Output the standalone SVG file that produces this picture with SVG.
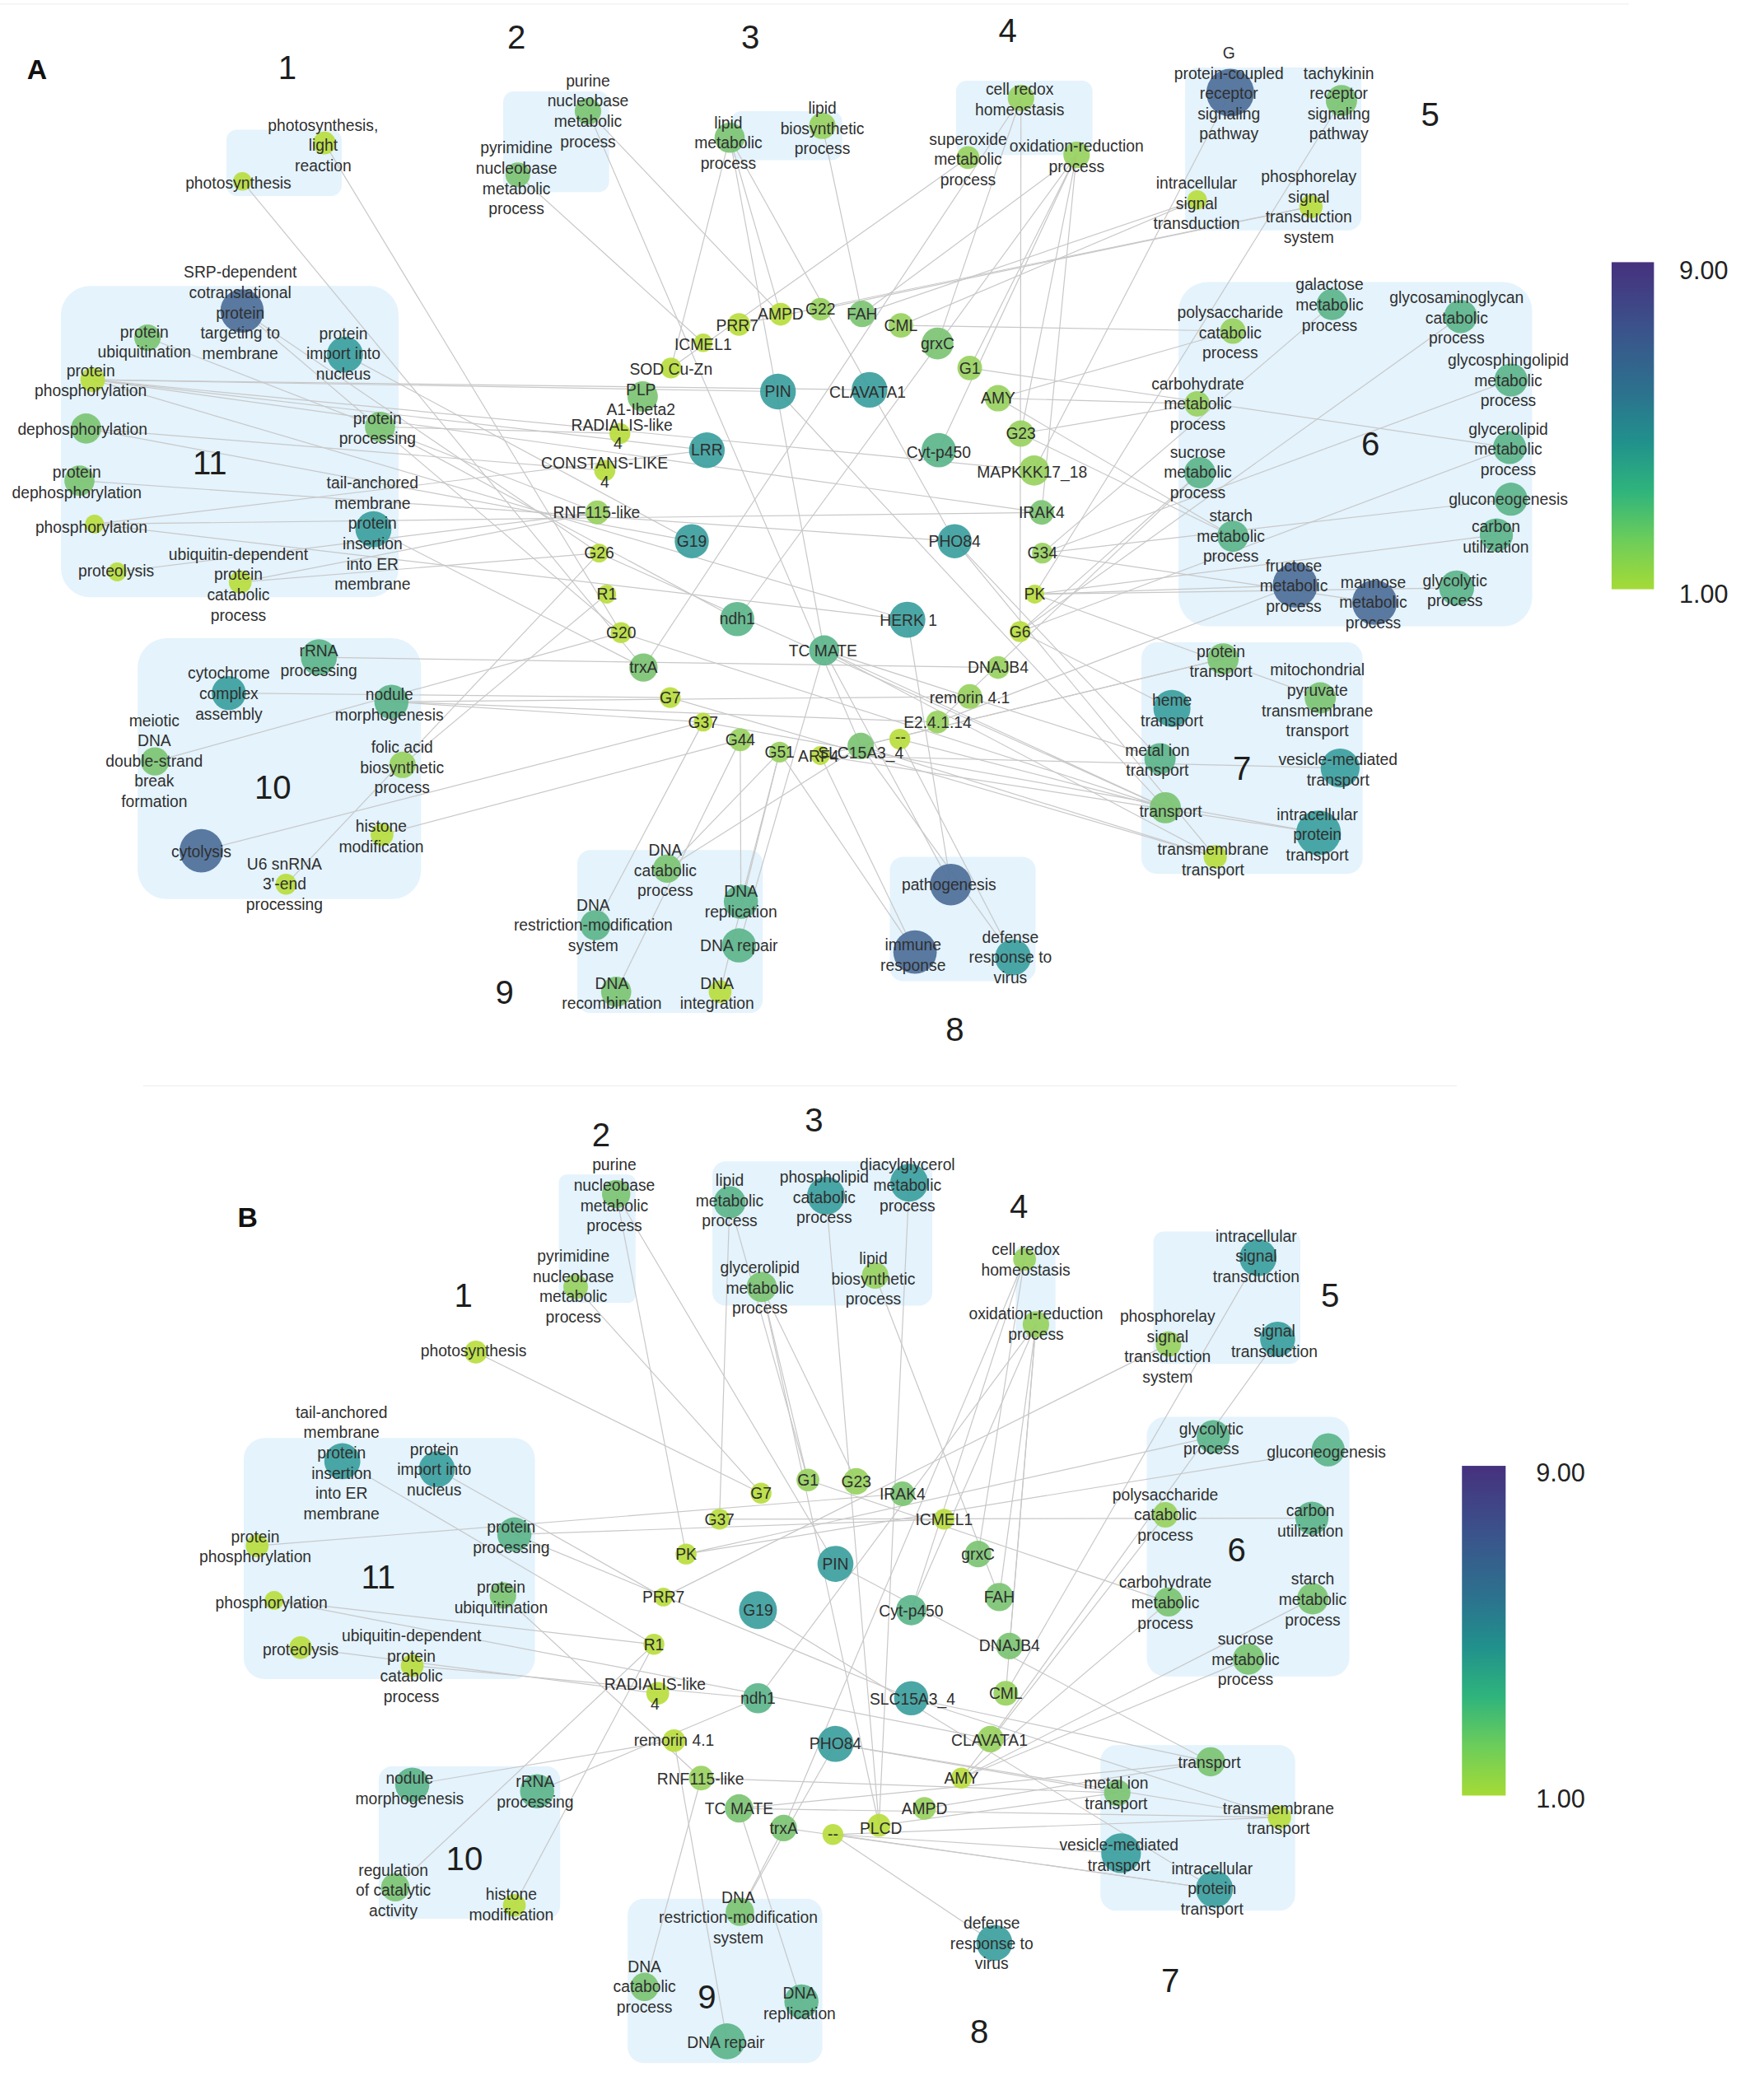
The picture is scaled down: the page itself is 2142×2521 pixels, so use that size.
<svg xmlns="http://www.w3.org/2000/svg" width="2142" height="2521" viewBox="0 0 2142 2521">
<defs>
<style>
.box{fill:#e4f3fc}
.e line{stroke:#c8c8c8;stroke-width:0.75}
text{font-family:"Liberation Sans",Arial,sans-serif;font-size:12px;fill:#2f2f2f;text-anchor:middle}
.num{font-size:25px;fill:#1e1e1e}
.pl{font-size:21px;font-weight:bold;fill:#111}
.cb{font-size:19px;text-anchor:start;fill:#222}
.y{fill:#b9dd3e}
.lg{fill:#98d15f}
.g{fill:#7cc473}
.gt{fill:#5cb58a}
.t{fill:#3c9f9e}
.b{fill:#4d6f99}
circle{opacity:0.92}
</style>
<linearGradient id="vir" x1="0" y1="0" x2="0" y2="1">
<stop offset="0" stop-color="#46317e"/>
<stop offset="0.2" stop-color="#3b528b"/>
<stop offset="0.4" stop-color="#2c728e"/>
<stop offset="0.55" stop-color="#21918c"/>
<stop offset="0.7" stop-color="#2fb47c"/>
<stop offset="0.85" stop-color="#6ccd5a"/>
<stop offset="1" stop-color="#a5db36"/>
</linearGradient>
</defs>
<rect width="2142" height="2521" fill="#ffffff"/>
<g transform="scale(1.608)">
<g id="frame" stroke="#efefef" stroke-width="0.8">
<line x1="0" y1="3" x2="1230" y2="3"/>
<line x1="108" y1="820" x2="1100" y2="820"/>
</g>
<g id="clusters">
<rect class="box" x="171" y="98" width="87" height="50" rx="8"/>
<rect class="box" x="380" y="69" width="80" height="76" rx="8"/>
<rect class="box" x="552" y="84" width="84" height="37" rx="8"/>
<rect class="box" x="722" y="61" width="103" height="56" rx="8"/>
<rect class="box" x="895" y="51" width="133" height="123" rx="10"/>
<rect class="box" x="890" y="213" width="267" height="260" rx="22"/>
<rect class="box" x="862" y="485" width="167" height="175" rx="12"/>
<rect class="box" x="672" y="647" width="110" height="94" rx="10"/>
<rect class="box" x="436" y="642" width="140" height="123" rx="10"/>
<rect class="box" x="104" y="482" width="214" height="197" rx="22"/>
<rect class="box" x="46" y="216" width="255" height="235" rx="22"/>
<rect class="box" x="422" y="887" width="58" height="97" rx="6"/>
<rect class="box" x="538" y="877" width="166" height="109" rx="10"/>
<rect class="box" x="767" y="941" width="30" height="69" rx="4"/>
<rect class="box" x="871" y="930" width="111" height="100" rx="8"/>
<rect class="box" x="866" y="1070" width="153" height="196" rx="14"/>
<rect class="box" x="831" y="1318" width="147" height="125" rx="12"/>
<rect class="box" x="474" y="1434" width="147" height="124" rx="12"/>
<rect class="box" x="286" y="1334" width="137" height="115" rx="10"/>
<rect class="box" x="184" y="1086" width="220" height="182" rx="16"/>
</g>
<g id="connectors" class="e">
<line x1="183" y1="137" x2="485.9" y2="504.1"/>
<line x1="245" y1="108" x2="469" y2="477.8"/>
<line x1="444" y1="84" x2="589.5" y2="237.3"/>
<line x1="444" y1="84" x2="650" y2="563.4"/>
<line x1="391" y1="132" x2="531" y2="258.9"/>
<line x1="551" y1="104" x2="506.7" y2="277.9"/>
<line x1="551" y1="104" x2="622.4" y2="491.2"/>
<line x1="551" y1="104" x2="589.5" y2="237.3"/>
<line x1="551" y1="104" x2="720.9" y2="408.7"/>
<line x1="621" y1="95" x2="651" y2="237"/>
<line x1="731" y1="119" x2="506.7" y2="277.9"/>
<line x1="771" y1="74" x2="708" y2="259.4"/>
<line x1="771" y1="74" x2="485.9" y2="504.1"/>
<line x1="771" y1="74" x2="770.3" y2="477"/>
<line x1="813" y1="117" x2="708.9" y2="340"/>
<line x1="813" y1="117" x2="770.9" y2="327.4"/>
<line x1="813" y1="117" x2="786.6" y2="387"/>
<line x1="813" y1="117" x2="556.7" y2="467.5"/>
<line x1="813" y1="117" x2="732.3" y2="277.9"/>
<line x1="813" y1="117" x2="651" y2="237"/>
<line x1="929" y1="70" x2="780.9" y2="355.3"/>
<line x1="1013" y1="76" x2="781.4" y2="448.7"/>
<line x1="904" y1="151" x2="680.3" y2="245.7"/>
<line x1="904" y1="151" x2="651" y2="237"/>
<line x1="990" y1="156" x2="558" y2="245"/>
<line x1="990" y1="156" x2="619.5" y2="233.5"/>
<line x1="680.3" y1="245.7" x2="931" y2="250"/>
<line x1="931" y1="250" x2="753.7" y2="300.7"/>
<line x1="904" y1="305" x2="753.7" y2="300.7"/>
<line x1="904" y1="305" x2="770.9" y2="327.4"/>
<line x1="732.3" y1="277.9" x2="1140" y2="338"/>
<line x1="1006" y1="230" x2="787.2" y2="417.7"/>
<line x1="1103" y1="239" x2="770.3" y2="477"/>
<line x1="1141" y1="287" x2="787.2" y2="417.7"/>
<line x1="1140" y1="338" x2="770.3" y2="477"/>
<line x1="1141" y1="377" x2="787.2" y2="417.7"/>
<line x1="1130" y1="404" x2="781.4" y2="448.7"/>
<line x1="931" y1="405" x2="753.7" y2="300.7"/>
<line x1="931" y1="405" x2="770.9" y2="327.4"/>
<line x1="906" y1="357" x2="708" y2="545.3"/>
<line x1="906" y1="357" x2="770.3" y2="477"/>
<line x1="978" y1="442" x2="708" y2="545.3"/>
<line x1="978" y1="442" x2="781.4" y2="448.7"/>
<line x1="1038" y1="455" x2="787.2" y2="417.7"/>
<line x1="1100" y1="444" x2="781.4" y2="448.7"/>
<line x1="923.6" y1="497.6" x2="619.5" y2="570.6"/>
<line x1="923.6" y1="497.6" x2="650" y2="563.4"/>
<line x1="997" y1="527" x2="781.4" y2="448.7"/>
<line x1="885" y1="535" x2="770.3" y2="477"/>
<line x1="876" y1="573" x2="720.9" y2="408.7"/>
<line x1="876" y1="573" x2="622.4" y2="491.2"/>
<line x1="1012" y1="580" x2="619.5" y2="570.6"/>
<line x1="880" y1="610" x2="587.5" y2="295.7"/>
<line x1="880" y1="610" x2="469" y2="477.8"/>
<line x1="880" y1="610" x2="452.4" y2="417.7"/>
<line x1="880" y1="610" x2="622.4" y2="491.2"/>
<line x1="880" y1="610" x2="679.5" y2="558.2"/>
<line x1="995.7" y1="629" x2="619.5" y2="570.6"/>
<line x1="995.7" y1="629" x2="531" y2="545.3"/>
<line x1="917.7" y1="647" x2="622.4" y2="491.2"/>
<line x1="917.7" y1="647" x2="720.9" y2="408.7"/>
<line x1="917.7" y1="647" x2="650" y2="563.4"/>
<line x1="917.7" y1="647" x2="506.1" y2="526.8"/>
<line x1="718" y1="668" x2="622.4" y2="491.2"/>
<line x1="718" y1="668" x2="685.2" y2="468"/>
<line x1="691" y1="719" x2="619.5" y2="570.6"/>
<line x1="691" y1="719" x2="588.7" y2="568"/>
<line x1="765" y1="723" x2="679.5" y2="558.2"/>
<line x1="765" y1="723" x2="650" y2="563.4"/>
<line x1="503.8" y1="656" x2="588.7" y2="568"/>
<line x1="503.8" y1="656" x2="650" y2="563.4"/>
<line x1="559.5" y1="681" x2="559" y2="558.7"/>
<line x1="559.5" y1="681" x2="588.7" y2="568"/>
<line x1="449.6" y1="698.7" x2="531" y2="545.3"/>
<line x1="558" y1="714" x2="622.4" y2="491.2"/>
<line x1="465.3" y1="749" x2="559" y2="558.7"/>
<line x1="543.8" y1="749" x2="588.7" y2="568"/>
<line x1="240.8" y1="496.4" x2="753.7" y2="504.1"/>
<line x1="172.8" y1="523.4" x2="506.1" y2="526.8"/>
<line x1="295.6" y1="530" x2="732.3" y2="526"/>
<line x1="295.6" y1="530" x2="531" y2="545.3"/>
<line x1="295.6" y1="530" x2="708" y2="545.3"/>
<line x1="117" y1="575" x2="469" y2="477.8"/>
<line x1="304" y1="577.6" x2="458.2" y2="448.7"/>
<line x1="288.5" y1="630.4" x2="559" y2="558.7"/>
<line x1="152" y1="642.5" x2="531" y2="545.3"/>
<line x1="216" y1="667.8" x2="452.4" y2="417.7"/>
<line x1="182.8" y1="234.8" x2="452.4" y2="417.7"/>
<line x1="182.8" y1="234.8" x2="469" y2="477.8"/>
<line x1="111.4" y1="255" x2="451" y2="387"/>
<line x1="260.5" y1="267.8" x2="522.4" y2="408.7"/>
<line x1="70" y1="286.8" x2="656.6" y2="294.4"/>
<line x1="70" y1="286.8" x2="533.8" y2="340"/>
<line x1="70" y1="286.8" x2="780.9" y2="355.3"/>
<line x1="70" y1="286.8" x2="786.6" y2="387"/>
<line x1="70" y1="286.8" x2="685.2" y2="468"/>
<line x1="70" y1="286.8" x2="587.5" y2="295.7"/>
<line x1="65" y1="323.6" x2="456.7" y2="355.3"/>
<line x1="65" y1="323.6" x2="522.4" y2="408.7"/>
<line x1="287" y1="322.3" x2="468.1" y2="327.4"/>
<line x1="287" y1="322.3" x2="556.7" y2="467.5"/>
<line x1="60" y1="363" x2="720.9" y2="408.7"/>
<line x1="282" y1="399.7" x2="485.9" y2="504.1"/>
<line x1="71.4" y1="395.8" x2="533.8" y2="340"/>
<line x1="71.4" y1="395.8" x2="786.6" y2="387"/>
<line x1="71.4" y1="395.8" x2="685.2" y2="468"/>
<line x1="88.5" y1="431.9" x2="451" y2="387"/>
<line x1="181.4" y1="439.6" x2="451" y2="387"/>
<line x1="181.4" y1="439.6" x2="452.4" y2="417.7"/>
<line x1="359.3" y1="1021.1" x2="574.7" y2="1127.6"/>
<line x1="465.3" y1="901.8" x2="518.1" y2="1173.6"/>
<line x1="465.3" y1="901.8" x2="630.9" y2="1181"/>
<line x1="434.7" y1="971.9" x2="574.7" y2="1127.6"/>
<line x1="551" y1="908" x2="610.1" y2="1117.7"/>
<line x1="551" y1="908" x2="543.3" y2="1147.3"/>
<line x1="575.2" y1="971.9" x2="610.1" y2="1117.7"/>
<line x1="575.2" y1="971.9" x2="646.6" y2="1118.7"/>
<line x1="575.2" y1="971.9" x2="663.8" y2="1378.5"/>
<line x1="623.8" y1="903" x2="663.8" y2="1378.5"/>
<line x1="686.6" y1="893.2" x2="663.8" y2="1378.5"/>
<line x1="660.9" y1="963.3" x2="754.6" y2="1206.1"/>
<line x1="773.7" y1="951" x2="738.6" y2="1173.6"/>
<line x1="773.7" y1="951" x2="591.8" y2="1380.5"/>
<line x1="773.7" y1="951" x2="688.1" y2="1216"/>
<line x1="782.3" y1="1000.2" x2="688.1" y2="1216"/>
<line x1="782.3" y1="1000.2" x2="754.6" y2="1206.1"/>
<line x1="782.3" y1="1000.2" x2="759.5" y2="1278.8"/>
<line x1="782.3" y1="1000.2" x2="572.4" y2="1282.5"/>
<line x1="782.3" y1="1000.2" x2="762.3" y2="1243.1"/>
<line x1="950" y1="949.8" x2="759.5" y2="1278.8"/>
<line x1="964.8" y1="1011.3" x2="748" y2="1313.3"/>
<line x1="882.4" y1="1015" x2="501" y2="1206.1"/>
<line x1="916.2" y1="1085" x2="518.1" y2="1173.6"/>
<line x1="1003" y1="1094.9" x2="518.1" y2="1173.6"/>
<line x1="880" y1="1144" x2="726" y2="1342.8"/>
<line x1="990.7" y1="1146.5" x2="543.3" y2="1147.3"/>
<line x1="882.4" y1="1209.8" x2="726" y2="1342.8"/>
<line x1="882.4" y1="1209.8" x2="610.1" y2="1117.7"/>
<line x1="991.3" y1="1207.4" x2="726" y2="1342.8"/>
<line x1="942.7" y1="1252.9" x2="726" y2="1342.8"/>
<line x1="914.2" y1="1330.5" x2="630.9" y2="1181"/>
<line x1="914.2" y1="1330.5" x2="688.1" y2="1282.5"/>
<line x1="914.2" y1="1330.5" x2="698.1" y2="1365.7"/>
<line x1="914.2" y1="1330.5" x2="558.1" y2="1365.7"/>
<line x1="843.7" y1="1353.9" x2="630.9" y2="1317"/>
<line x1="843.7" y1="1353.9" x2="663.8" y2="1378.5"/>
<line x1="843.7" y1="1353.9" x2="529.5" y2="1342.8"/>
<line x1="966.2" y1="1372.4" x2="558.1" y2="1365.7"/>
<line x1="966.2" y1="1372.4" x2="630.9" y2="1317"/>
<line x1="966.2" y1="1372.4" x2="688.1" y2="1282.5"/>
<line x1="966.2" y1="1372.4" x2="629" y2="1385.4"/>
<line x1="846.6" y1="1399.5" x2="629" y2="1385.4"/>
<line x1="917.1" y1="1426.6" x2="629" y2="1385.4"/>
<line x1="917.1" y1="1426.6" x2="591.8" y2="1380.5"/>
<line x1="917.1" y1="1426.6" x2="572.4" y2="1216"/>
<line x1="750.9" y1="1467.2" x2="629" y2="1385.4"/>
<line x1="558.7" y1="1443.8" x2="591.8" y2="1380.5"/>
<line x1="558.7" y1="1443.8" x2="630.9" y2="1317"/>
<line x1="486.7" y1="1500.5" x2="529.5" y2="1342.8"/>
<line x1="549" y1="1541.6" x2="509" y2="1314.5"/>
<line x1="605.2" y1="1511.5" x2="558.1" y2="1365.7"/>
<line x1="311.3" y1="1347.8" x2="509" y2="1314.5"/>
<line x1="405.6" y1="1352.7" x2="572.4" y2="1282.5"/>
<line x1="298.5" y1="1425.3" x2="493.8" y2="1241.8"/>
<line x1="388.4" y1="1438.9" x2="493.8" y2="1241.8"/>
<line x1="258.5" y1="1103.5" x2="493.8" y2="1241.8"/>
<line x1="329.9" y1="1109.6" x2="501" y2="1206.1"/>
<line x1="388.4" y1="1158.8" x2="712.9" y2="1147.3"/>
<line x1="388.4" y1="1158.8" x2="688.1" y2="1282.5"/>
<line x1="194.2" y1="1167.4" x2="681.5" y2="1128.1"/>
<line x1="207" y1="1208.6" x2="493.8" y2="1241.8"/>
<line x1="207" y1="1208.6" x2="748" y2="1313.3"/>
<line x1="379.8" y1="1204.9" x2="529.5" y2="1342.8"/>
<line x1="311.3" y1="1257.9" x2="572.4" y2="1282.5"/>
<line x1="227" y1="1244.3" x2="496.7" y2="1278.8"/>
</g>
<g id="colorbars">
<rect x="1217" y="198" width="32" height="247" fill="url(#vir)"/>
<text class="cb" x="1268" y="211">9.00</text>
<text class="cb" x="1268" y="455">1.00</text>
<rect x="1104" y="1107" width="33" height="249" fill="url(#vir)"/>
<text class="cb" x="1160" y="1119">9.00</text>
<text class="cb" x="1160" y="1365">1.00</text>
</g>
<g id="panel-labels">
<text class="pl" x="28" y="59.5">A</text>
<text class="num" x="217" y="60">1</text>
<text class="num" x="390" y="37">2</text>
<text class="num" x="566.7" y="37">3</text>
<text class="num" x="761" y="32">4</text>
<text class="num" x="1080" y="95">5</text>
<text class="num" x="1035" y="344">6</text>
<text class="num" x="938" y="589">7</text>
<text class="num" x="721" y="786">8</text>
<text class="num" x="381" y="758">9</text>
<text class="num" x="206" y="603">10</text>
<text class="num" x="158.5" y="358">11</text>
<text class="pl" x="187" y="926.5">B</text>
<text class="num" x="350" y="987">1</text>
<text class="num" x="453.9" y="865.4">2</text>
<text class="num" x="614.7" y="854.3">3</text>
<text class="num" x="769.4" y="919.5">4</text>
<text class="num" x="1004.5" y="987">5</text>
<text class="num" x="933.9" y="1178.9">6</text>
<text class="num" x="883.8" y="1504.5">7</text>
<text class="num" x="739.5" y="1542.7">8</text>
<text class="num" x="533.8" y="1516.8">9</text>
<text class="num" x="350.7" y="1412.2">10</text>
<text class="num" x="285.6" y="1199.5">11</text>
</g>
<g id="nodes-A">
<g id="a-psl"><circle class="y" cx="245" cy="108" r="8.6"/><text x="244" y="98.6"><tspan x="244">photosynthesis,</tspan><tspan x="244" dy="15.3">light</tspan><tspan x="244" dy="15.3">reaction</tspan></text></g>
<g id="a-ps"><circle class="y" cx="183" cy="137" r="7"/><text x="180" y="142.2">photosynthesis</text></g>
<g id="a-pur"><circle class="g" cx="444" cy="84" r="10"/><text x="444" y="65.2"><tspan x="444">purine</tspan><tspan x="444" dy="15.3">nucleobase</tspan><tspan x="444" dy="15.3">metabolic</tspan><tspan x="444" dy="15.3">process</tspan></text></g>
<g id="a-pyr"><circle class="g" cx="391" cy="132" r="9.3"/><text x="390" y="115.9"><tspan x="390">pyrimidine</tspan><tspan x="390" dy="15.3">nucleobase</tspan><tspan x="390" dy="15.3">metabolic</tspan><tspan x="390" dy="15.3">process</tspan></text></g>
<g id="a-lm"><circle class="g" cx="551" cy="104" r="11.4"/><text x="550" y="96.8"><tspan x="550">lipid</tspan><tspan x="550" dy="15.3">metabolic</tspan><tspan x="550" dy="15.3">process</tspan></text></g>
<g id="a-lb"><circle class="lg" cx="621" cy="95" r="10"/><text x="621" y="85.9"><tspan x="621">lipid</tspan><tspan x="621" dy="15.3">biosynthetic</tspan><tspan x="621" dy="15.3">process</tspan></text></g>
<g id="a-cr"><circle class="lg" cx="771" cy="74" r="10"/><text x="770" y="71.5"><tspan x="770">cell redox</tspan><tspan x="770" dy="15.3">homeostasis</tspan></text></g>
<g id="a-so"><circle class="lg" cx="731" cy="119" r="8.6"/><text x="731" y="109.2"><tspan x="731">superoxide</tspan><tspan x="731" dy="15.3">metabolic</tspan><tspan x="731" dy="15.3">process</tspan></text></g>
<g id="a-ox"><circle class="lg" cx="813" cy="117" r="10"/><text x="813" y="114.6"><tspan x="813">oxidation-reduction</tspan><tspan x="813" dy="15.3">process</tspan></text></g>
<g id="a-gp"><circle class="b" cx="929" cy="70" r="18"/><text x="928" y="44.2"><tspan x="928">G</tspan><tspan x="928" dy="15.3">protein-coupled</tspan><tspan x="928" dy="15.3">receptor</tspan><tspan x="928" dy="15.3">signaling</tspan><tspan x="928" dy="15.3">pathway</tspan></text></g>
<g id="a-tk"><circle class="g" cx="1013" cy="76" r="11.8"/><text x="1011" y="59.5"><tspan x="1011">tachykinin</tspan><tspan x="1011" dy="15.3">receptor</tspan><tspan x="1011" dy="15.3">signaling</tspan><tspan x="1011" dy="15.3">pathway</tspan></text></g>
<g id="a-is"><circle class="y" cx="904" cy="151" r="7.4"/><text x="903.6" y="142.5"><tspan x="903.6">intracellular</tspan><tspan x="903.6" dy="15.3">signal</tspan><tspan x="903.6" dy="15.3">transduction</tspan></text></g>
<g id="a-pr"><circle class="y" cx="990" cy="156" r="8.8"/><text x="988.3" y="137.4"><tspan x="988.3">phosphorelay</tspan><tspan x="988.3" dy="15.3">signal</tspan><tspan x="988.3" dy="15.3">transduction</tspan><tspan x="988.3" dy="15.3">system</tspan></text></g>
<g id="a-gal"><circle class="gt" cx="1006" cy="230" r="11.8"/><text x="1004" y="219.2"><tspan x="1004">galactose</tspan><tspan x="1004" dy="15.3">metabolic</tspan><tspan x="1004" dy="15.3">process</tspan></text></g>
<g id="a-gag"><circle class="gt" cx="1103" cy="239" r="12.5"/><text x="1100" y="228.8"><tspan x="1100">glycosaminoglycan</tspan><tspan x="1100" dy="15.3">catabolic</tspan><tspan x="1100" dy="15.3">process</tspan></text></g>
<g id="a-poly"><circle class="lg" cx="931" cy="250" r="9.6"/><text x="929" y="240.2"><tspan x="929">polysaccharide</tspan><tspan x="929" dy="15.3">catabolic</tspan><tspan x="929" dy="15.3">process</tspan></text></g>
<g id="a-gsl"><circle class="gt" cx="1141" cy="287" r="12.5"/><text x="1139" y="276.2"><tspan x="1139">glycosphingolipid</tspan><tspan x="1139" dy="15.3">metabolic</tspan><tspan x="1139" dy="15.3">process</tspan></text></g>
<g id="a-carb"><circle class="lg" cx="904" cy="305" r="9.6"/><text x="904.5" y="294"><tspan x="904.5">carbohydrate</tspan><tspan x="904.5" dy="15.3">metabolic</tspan><tspan x="904.5" dy="15.3">process</tspan></text></g>
<g id="a-glyl"><circle class="gt" cx="1140" cy="338" r="12.5"/><text x="1139" y="328.2"><tspan x="1139">glycerolipid</tspan><tspan x="1139" dy="15.3">metabolic</tspan><tspan x="1139" dy="15.3">process</tspan></text></g>
<g id="a-suc"><circle class="gt" cx="906" cy="357" r="11.8"/><text x="904.5" y="345.6"><tspan x="904.5">sucrose</tspan><tspan x="904.5" dy="15.3">metabolic</tspan><tspan x="904.5" dy="15.3">process</tspan></text></g>
<g id="a-glu"><circle class="gt" cx="1141" cy="377" r="12.5"/><text x="1139" y="381.2">gluconeogenesis</text></g>
<g id="a-sta"><circle class="gt" cx="931" cy="405" r="11.8"/><text x="929.5" y="393.8"><tspan x="929.5">starch</tspan><tspan x="929.5" dy="15.3">metabolic</tspan><tspan x="929.5" dy="15.3">process</tspan></text></g>
<g id="a-cu"><circle class="gt" cx="1130" cy="404" r="12.5"/><text x="1129.6" y="401.8"><tspan x="1129.6">carbon</tspan><tspan x="1129.6" dy="15.3">utilization</tspan></text></g>
<g id="a-fru"><circle class="b" cx="978" cy="442" r="16.9"/><text x="977" y="431.5"><tspan x="977">fructose</tspan><tspan x="977" dy="15.3">metabolic</tspan><tspan x="977" dy="15.3">process</tspan></text></g>
<g id="a-man"><circle class="b" cx="1038" cy="455" r="16.9"/><text x="1037" y="443.8"><tspan x="1037">mannose</tspan><tspan x="1037" dy="15.3">metabolic</tspan><tspan x="1037" dy="15.3">process</tspan></text></g>
<g id="a-glyc"><circle class="gt" cx="1100" cy="444" r="13.2"/><text x="1098.7" y="442.5"><tspan x="1098.7">glycolytic</tspan><tspan x="1098.7" dy="15.3">process</tspan></text></g>
<g id="a-pt"><circle class="g" cx="923.6" cy="497.6" r="11.8"/><text x="922" y="496.2"><tspan x="922">protein</tspan><tspan x="922" dy="15.3">transport</tspan></text></g>
<g id="a-mito"><circle class="g" cx="997" cy="527" r="11.8"/><text x="994.8" y="510.2"><tspan x="994.8">mitochondrial</tspan><tspan x="994.8" dy="15.3">pyruvate</tspan><tspan x="994.8" dy="15.3">transmembrane</tspan><tspan x="994.8" dy="15.3">transport</tspan></text></g>
<g id="a-heme"><circle class="t" cx="885" cy="535" r="14"/><text x="885" y="533.2"><tspan x="885">heme</tspan><tspan x="885" dy="15.3">transport</tspan></text></g>
<g id="a-metal"><circle class="gt" cx="876" cy="573" r="11.8"/><text x="874" y="570.7"><tspan x="874">metal ion</tspan><tspan x="874" dy="15.3">transport</tspan></text></g>
<g id="a-ves"><circle class="t" cx="1012" cy="580" r="14.7"/><text x="1010.4" y="577.9"><tspan x="1010.4">vesicle-mediated</tspan><tspan x="1010.4" dy="15.3">transport</tspan></text></g>
<g id="a-tr"><circle class="g" cx="880" cy="610" r="11.8"/><text x="884" y="616.7">transport</text></g>
<g id="a-ipt"><circle class="t" cx="995.7" cy="629" r="16.9"/><text x="994.8" y="619.2"><tspan x="994.8">intracellular</tspan><tspan x="994.8" dy="15.3">protein</tspan><tspan x="994.8" dy="15.3">transport</tspan></text></g>
<g id="a-tm"><circle class="y" cx="917.7" cy="647" r="8.8"/><text x="916" y="645.7"><tspan x="916">transmembrane</tspan><tspan x="916" dy="15.3">transport</tspan></text></g>
<g id="a-path"><circle class="b" cx="718" cy="668" r="15.7"/><text x="716.6" y="672.2">pathogenesis</text></g>
<g id="a-imm"><circle class="b" cx="691" cy="719" r="16.4"/><text x="689.5" y="717.6"><tspan x="689.5">immune</tspan><tspan x="689.5" dy="15.3">response</tspan></text></g>
<g id="a-def"><circle class="t" cx="765" cy="723" r="13.6"/><text x="763" y="711.9"><tspan x="763">defense</tspan><tspan x="763" dy="15.3">response to</tspan><tspan x="763" dy="15.3">virus</tspan></text></g>
<g id="a-cat"><circle class="g" cx="503.8" cy="656" r="10.7"/><text x="502.4" y="646.2"><tspan x="502.4">DNA</tspan><tspan x="502.4" dy="15.3">catabolic</tspan><tspan x="502.4" dy="15.3">process</tspan></text></g>
<g id="a-rep"><circle class="gt" cx="559.5" cy="681" r="12.9"/><text x="559.5" y="677.2"><tspan x="559.5">DNA</tspan><tspan x="559.5" dy="15.3">replication</tspan></text></g>
<g id="a-rm"><circle class="gt" cx="449.6" cy="698.7" r="11.4"/><text x="448" y="687.5"><tspan x="448">DNA</tspan><tspan x="448" dy="15.3">restriction-modification</tspan><tspan x="448" dy="15.3">system</tspan></text></g>
<g id="a-repair"><circle class="gt" cx="558" cy="714" r="12.9"/><text x="558" y="718.2">DNA repair</text></g>
<g id="a-rec"><circle class="g" cx="465.3" cy="749" r="11.4"/><text x="462" y="746.7"><tspan x="462">DNA</tspan><tspan x="462" dy="15.3">recombination</tspan></text></g>
<g id="a-int"><circle class="y" cx="543.8" cy="749" r="8.6"/><text x="541.5" y="746.7"><tspan x="541.5">DNA</tspan><tspan x="541.5" dy="15.3">integration</tspan></text></g>
<g id="a-rrna"><circle class="gt" cx="240.8" cy="496.4" r="13.6"/><text x="240.7" y="495.4"><tspan x="240.7">rRNA</tspan><tspan x="240.7" dy="15.3">processing</tspan></text></g>
<g id="a-cyt"><circle class="t" cx="172.8" cy="523.4" r="12.9"/><text x="172.8" y="512.7"><tspan x="172.8">cytochrome</tspan><tspan x="172.8" dy="15.3">complex</tspan><tspan x="172.8" dy="15.3">assembly</tspan></text></g>
<g id="a-nod"><circle class="gt" cx="295.6" cy="530" r="12.9"/><text x="294" y="528.9"><tspan x="294">nodule</tspan><tspan x="294" dy="15.3">morphogenesis</tspan></text></g>
<g id="a-mei"><circle class="g" cx="117" cy="575" r="10.7"/><text x="116.5" y="548.2"><tspan x="116.5">meiotic</tspan><tspan x="116.5" dy="15.3">DNA</tspan><tspan x="116.5" dy="15.3">double-strand</tspan><tspan x="116.5" dy="15.3">break</tspan><tspan x="116.5" dy="15.3">formation</tspan></text></g>
<g id="a-fol"><circle class="lg" cx="304" cy="577.6" r="10"/><text x="303.6" y="568.4"><tspan x="303.6">folic acid</tspan><tspan x="303.6" dy="15.3">biosynthetic</tspan><tspan x="303.6" dy="15.3">process</tspan></text></g>
<g id="a-cytol"><circle class="b" cx="152" cy="642.5" r="16.4"/><text x="152" y="647.2">cytolysis</text></g>
<g id="a-his"><circle class="y" cx="288.5" cy="630.4" r="8.6"/><text x="287.9" y="628.2"><tspan x="287.9">histone</tspan><tspan x="287.9" dy="15.3">modification</tspan></text></g>
<g id="a-u6"><circle class="y" cx="216" cy="667.8" r="7.9"/><text x="214.8" y="656.5"><tspan x="214.8">U6 snRNA</tspan><tspan x="214.8" dy="15.3">3'-end</tspan><tspan x="214.8" dy="15.3">processing</tspan></text></g>
<g id="a-srp"><circle class="b" cx="182.8" cy="234.8" r="16.4"/><text x="181.4" y="209.8"><tspan x="181.4">SRP-dependent</tspan><tspan x="181.4" dy="15.3">cotranslational</tspan><tspan x="181.4" dy="15.3">protein</tspan><tspan x="181.4" dy="15.3">targeting to</tspan><tspan x="181.4" dy="15.3">membrane</tspan></text></g>
<g id="a-ubq"><circle class="g" cx="111.4" cy="255" r="10"/><text x="109" y="254.7"><tspan x="109">protein</tspan><tspan x="109" dy="15.3">ubiquitination</tspan></text></g>
<g id="a-imp"><circle class="t" cx="260.5" cy="267.8" r="13.6"/><text x="259.3" y="256"><tspan x="259.3">protein</tspan><tspan x="259.3" dy="15.3">import into</tspan><tspan x="259.3" dy="15.3">nucleus</tspan></text></g>
<g id="a-pphos"><circle class="y" cx="70" cy="286.8" r="9.3"/><text x="68.5" y="283.9"><tspan x="68.5">protein</tspan><tspan x="68.5" dy="15.3">phosphorylation</tspan></text></g>
<g id="a-dephos"><circle class="g" cx="65" cy="323.6" r="11.4"/><text x="62.3" y="328.2">dephosphorylation</text></g>
<g id="a-proc"><circle class="g" cx="287" cy="322.3" r="11.4"/><text x="285" y="320.2"><tspan x="285">protein</tspan><tspan x="285" dy="15.3">processing</tspan></text></g>
<g id="a-pdephos"><circle class="g" cx="60" cy="363" r="11.4"/><text x="58" y="360.8"><tspan x="58">protein</tspan><tspan x="58" dy="15.3">dephosphorylation</tspan></text></g>
<g id="a-tail"><circle class="t" cx="282" cy="399.7" r="13.6"/><text x="281.3" y="368.9"><tspan x="281.3">tail-anchored</tspan><tspan x="281.3" dy="15.3">membrane</tspan><tspan x="281.3" dy="15.3">protein</tspan><tspan x="281.3" dy="15.3">insertion</tspan><tspan x="281.3" dy="15.3">into ER</tspan><tspan x="281.3" dy="15.3">membrane</tspan></text></g>
<g id="a-phos"><circle class="y" cx="71.4" cy="395.8" r="7.1"/><text x="69" y="402.1">phosphorylation</text></g>
<g id="a-prot"><circle class="y" cx="88.5" cy="431.9" r="7.1"/><text x="87.7" y="435.6">proteolysis</text></g>
<g id="a-ubdep"><circle class="y" cx="181.4" cy="439.6" r="8.6"/><text x="180" y="422.7"><tspan x="180">ubiquitin-dependent</tspan><tspan x="180" dy="15.3">protein</tspan><tspan x="180" dy="15.3">catabolic</tspan><tspan x="180" dy="15.3">process</tspan></text></g>
<g id="a-PRR7"><circle class="y" cx="558" cy="245" r="8.6"/><text x="556.7" y="249.9">PRR7</text></g>
<g id="a-AMPD"><circle class="y" cx="589.5" cy="237.3" r="8.6"/><text x="589.5" y="241.5">AMPD</text></g>
<g id="a-G22"><circle class="lg" cx="619.5" cy="233.5" r="8.6"/><text x="619.5" y="237.7">G22</text></g>
<g id="a-FAH"><circle class="g" cx="651" cy="237" r="10"/><text x="651" y="241.2">FAH</text></g>
<g id="a-CML"><circle class="lg" cx="680.3" cy="245.7" r="9.3"/><text x="680.3" y="249.9">CML</text></g>
<g id="a-grxC"><circle class="g" cx="708" cy="259.4" r="12"/><text x="708" y="263.6">grxC</text></g>
<g id="a-ICMEL1"><circle class="y" cx="531" cy="258.9" r="7"/><text x="531" y="264">ICMEL1</text></g>
<g id="a-SOD"><circle class="y" cx="506.7" cy="277.9" r="7.9"/><text x="506.7" y="282.9">SOD Cu-Zn</text></g>
<g id="a-G1"><circle class="lg" cx="732.3" cy="277.9" r="9.3"/><text x="732.3" y="282.1">G1</text></g>
<g id="a-PIN"><circle class="t" cx="587.5" cy="295.7" r="13.5"/><text x="587.5" y="299.9">PIN</text></g>
<g id="a-CLAVATA1"><circle class="t" cx="656.6" cy="294.4" r="13.5"/><text x="655.2" y="300.4">CLAVATA1</text></g>
<g id="a-AMY"><circle class="lg" cx="753.7" cy="300.7" r="10"/><text x="753.7" y="304.9">AMY</text></g>
<g id="a-PLP"><circle class="g" cx="485.3" cy="299.5" r="11.5"/><text x="484" y="298.2"><tspan x="484">PLP</tspan><tspan x="484" dy="15.3">A1-Ibeta2</tspan></text></g>
<g id="a-RAD"><circle class="y" cx="468.1" cy="327.4" r="7.9"/><text x="468.5" y="325.2"><tspan x="469.6">RADIALIS-like</tspan><tspan x="466.7" dy="14">4</tspan></text></g>
<g id="a-G23"><circle class="lg" cx="770.9" cy="327.4" r="10"/><text x="770.9" y="331.6">G23</text></g>
<g id="a-LRR"><circle class="t" cx="533.8" cy="340" r="13.5"/><text x="533.8" y="344.2">LRR</text></g>
<g id="a-Cyt"><circle class="gt" cx="708.9" cy="340" r="13"/><text x="708.9" y="345.6">Cyt-p450</text></g>
<g id="a-CONS"><circle class="y" cx="456.7" cy="355.3" r="8"/><text x="456.5" y="353.9"><tspan x="456.5">CONSTANS-LIKE</tspan><tspan x="456.7" dy="14.3">4</tspan></text></g>
<g id="a-MAPKKK"><circle class="lg" cx="780.9" cy="355.3" r="11.4"/><text x="779.4" y="360.8">MAPKKK17_18</text></g>
<g id="a-RNF"><circle class="lg" cx="451" cy="387" r="9"/><text x="450.5" y="391.2">RNF115-like</text></g>
<g id="a-IRAK4"><circle class="g" cx="786.6" cy="387" r="9.3"/><text x="786.6" y="391.2">IRAK4</text></g>
<g id="a-G19"><circle class="t" cx="522.4" cy="408.7" r="12.9"/><text x="522.4" y="412.9">G19</text></g>
<g id="a-G26"><circle class="y" cx="452.4" cy="417.7" r="7.1"/><text x="452.4" y="421.9">G26</text></g>
<g id="a-PHO84"><circle class="t" cx="720.9" cy="408.7" r="12.9"/><text x="720.9" y="412.9">PHO84</text></g>
<g id="a-G34"><circle class="lg" cx="787.2" cy="417.7" r="7.9"/><text x="787.2" y="421.9">G34</text></g>
<g id="a-R1"><circle class="y" cx="458.2" cy="448.7" r="7.1"/><text x="458.2" y="452.9">R1</text></g>
<g id="a-PK"><circle class="y" cx="781.4" cy="448.7" r="7.1"/><text x="781.4" y="452.9">PK</text></g>
<g id="a-ndh1"><circle class="gt" cx="556.7" cy="467.5" r="12.9"/><text x="556.7" y="471.7">ndh1</text></g>
<g id="a-HERK1"><circle class="t" cx="685.2" cy="468" r="13.6"/><text x="686" y="472.7">HERK 1</text></g>
<g id="a-G20"><circle class="y" cx="469" cy="477.8" r="7.9"/><text x="469" y="482">G20</text></g>
<g id="a-G6"><circle class="y" cx="770.3" cy="477" r="7.9"/><text x="770.3" y="481.2">G6</text></g>
<g id="a-TCMATE"><circle class="gt" cx="622.4" cy="491.2" r="11.4"/><text x="621.5" y="495.9">TC MATE</text></g>
<g id="a-trxA"><circle class="g" cx="485.9" cy="504.1" r="10.7"/><text x="485.9" y="508.3">trxA</text></g>
<g id="a-DNAJB4"><circle class="lg" cx="753.7" cy="504.1" r="8.6"/><text x="753.7" y="508.3">DNAJB4</text></g>
<g id="a-G7"><circle class="y" cx="506.1" cy="526.8" r="7.9"/><text x="506.1" y="531">G7</text></g>
<g id="a-remorin"><circle class="lg" cx="732.3" cy="526" r="9.3"/><text x="732.3" y="531">remorin 4.1</text></g>
<g id="a-G37"><circle class="y" cx="531" cy="545.3" r="7.1"/><text x="531" y="549.5">G37</text></g>
<g id="a-E2"><circle class="lg" cx="708" cy="545.3" r="8.6"/><text x="708" y="549.5">E2.4.1.14</text></g>
<g id="a-G44"><circle class="lg" cx="559" cy="558.7" r="8.6"/><text x="559" y="562.9">G44</text></g>
<g id="a-dash"><circle class="y" cx="679.5" cy="558.2" r="7.9"/><text x="680" y="561">--</text></g>
<g id="a-G51"><circle class="lg" cx="588.7" cy="568" r="7.9"/><text x="588.7" y="572.2">G51</text></g>
<g id="a-ARF4"><circle class="y" cx="619.5" cy="570.6" r="7.1"/><text x="618" y="575.2">ARF4</text></g>
<g id="a-SLC"><circle class="g" cx="650" cy="563.4" r="10"/><text x="650" y="572.7">SLC15A3_4</text></g>
</g>
<g id="nodes-B">
<g id="b-ps"><circle class="y" cx="359.3" cy="1021.1" r="8.6"/><text x="357.6" y="1024.2">photosynthesis</text></g>
<g id="b-pur"><circle class="g" cx="465.3" cy="901.8" r="10.7"/><text x="463.9" y="883.9"><tspan x="463.9">purine</tspan><tspan x="463.9" dy="15.3">nucleobase</tspan><tspan x="463.9" dy="15.3">metabolic</tspan><tspan x="463.9" dy="15.3">process</tspan></text></g>
<g id="b-pyr"><circle class="lg" cx="434.7" cy="971.9" r="9.3"/><text x="433" y="952.8"><tspan x="433">pyrimidine</tspan><tspan x="433" dy="15.3">nucleobase</tspan><tspan x="433" dy="15.3">metabolic</tspan><tspan x="433" dy="15.3">process</tspan></text></g>
<g id="b-lm"><circle class="gt" cx="551" cy="908" r="12.1"/><text x="551" y="895.7"><tspan x="551">lipid</tspan><tspan x="551" dy="15.3">metabolic</tspan><tspan x="551" dy="15.3">process</tspan></text></g>
<g id="b-phc"><circle class="t" cx="623.8" cy="903" r="14.3"/><text x="622.4" y="893"><tspan x="622.4">phospholipid</tspan><tspan x="622.4" dy="15.3">catabolic</tspan><tspan x="622.4" dy="15.3">process</tspan></text></g>
<g id="b-dag"><circle class="t" cx="686.6" cy="893.2" r="14.3"/><text x="685.2" y="883.9"><tspan x="685.2">diacylglycerol</tspan><tspan x="685.2" dy="15.3">metabolic</tspan><tspan x="685.2" dy="15.3">process</tspan></text></g>
<g id="b-glyl"><circle class="g" cx="575.2" cy="971.9" r="11.4"/><text x="573.8" y="961.4"><tspan x="573.8">glycerolipid</tspan><tspan x="573.8" dy="15.3">metabolic</tspan><tspan x="573.8" dy="15.3">process</tspan></text></g>
<g id="b-lb"><circle class="lg" cx="660.9" cy="963.3" r="10"/><text x="659.5" y="954.7"><tspan x="659.5">lipid</tspan><tspan x="659.5" dy="15.3">biosynthetic</tspan><tspan x="659.5" dy="15.3">process</tspan></text></g>
<g id="b-cr"><circle class="lg" cx="773.7" cy="951" r="8.6"/><text x="774.6" y="947.8"><tspan x="774.6">cell redox</tspan><tspan x="774.6" dy="15.3">homeostasis</tspan></text></g>
<g id="b-ox"><circle class="lg" cx="782.3" cy="1000.2" r="10"/><text x="782.3" y="996.5"><tspan x="782.3">oxidation-reduction</tspan><tspan x="782.3" dy="15.3">process</tspan></text></g>
<g id="b-is"><circle class="t" cx="950" cy="949.8" r="14"/><text x="948.6" y="937.5"><tspan x="948.6">intracellular</tspan><tspan x="948.6" dy="15.3">signal</tspan><tspan x="948.6" dy="15.3">transduction</tspan></text></g>
<g id="b-pr"><circle class="lg" cx="882.4" cy="1015" r="9.6"/><text x="881.7" y="998.2"><tspan x="881.7">phosphorelay</tspan><tspan x="881.7" dy="15.3">signal</tspan><tspan x="881.7" dy="15.3">transduction</tspan><tspan x="881.7" dy="15.3">system</tspan></text></g>
<g id="b-st"><circle class="t" cx="964.8" cy="1011.3" r="13.2"/><text x="962.4" y="1009.3"><tspan x="962.4">signal</tspan><tspan x="962.4" dy="15.3">transduction</tspan></text></g>
<g id="b-glyc"><circle class="gt" cx="916.2" cy="1085" r="12.5"/><text x="914.7" y="1083.1"><tspan x="914.7">glycolytic</tspan><tspan x="914.7" dy="15.3">process</tspan></text></g>
<g id="b-glu"><circle class="gt" cx="1003" cy="1094.9" r="12.5"/><text x="1001.6" y="1100.8">gluconeogenesis</text></g>
<g id="b-poly"><circle class="lg" cx="880" cy="1144" r="9.6"/><text x="880" y="1132.8"><tspan x="880">polysaccharide</tspan><tspan x="880" dy="15.3">catabolic</tspan><tspan x="880" dy="15.3">process</tspan></text></g>
<g id="b-cu"><circle class="gt" cx="990.7" cy="1146.5" r="12.5"/><text x="989.5" y="1145.1"><tspan x="989.5">carbon</tspan><tspan x="989.5" dy="15.3">utilization</tspan></text></g>
<g id="b-carb"><circle class="g" cx="882.4" cy="1209.8" r="11"/><text x="880" y="1199.2"><tspan x="880">carbohydrate</tspan><tspan x="880" dy="15.3">metabolic</tspan><tspan x="880" dy="15.3">process</tspan></text></g>
<g id="b-sta"><circle class="g" cx="991.3" cy="1207.4" r="11.8"/><text x="991.3" y="1196.8"><tspan x="991.3">starch</tspan><tspan x="991.3" dy="15.3">metabolic</tspan><tspan x="991.3" dy="15.3">process</tspan></text></g>
<g id="b-suc"><circle class="g" cx="942.7" cy="1252.9" r="11.8"/><text x="940.6" y="1241.9"><tspan x="940.6">sucrose</tspan><tspan x="940.6" dy="15.3">metabolic</tspan><tspan x="940.6" dy="15.3">process</tspan></text></g>
<g id="b-tr"><circle class="g" cx="914.2" cy="1330.5" r="11"/><text x="913.3" y="1335.4">transport</text></g>
<g id="b-metal"><circle class="g" cx="843.7" cy="1353.9" r="10"/><text x="842.9" y="1350.7"><tspan x="842.9">metal ion</tspan><tspan x="842.9" dy="15.3">transport</tspan></text></g>
<g id="b-tm"><circle class="y" cx="966.2" cy="1372.4" r="8.8"/><text x="965.4" y="1369.9"><tspan x="965.4">transmembrane</tspan><tspan x="965.4" dy="15.3">transport</tspan></text></g>
<g id="b-ves"><circle class="t" cx="846.6" cy="1399.5" r="15"/><text x="845" y="1397.5"><tspan x="845">vesicle-mediated</tspan><tspan x="845" dy="15.3">transport</tspan></text></g>
<g id="b-ipt"><circle class="t" cx="917.1" cy="1426.6" r="14"/><text x="915.3" y="1415.2"><tspan x="915.3">intracellular</tspan><tspan x="915.3" dy="15.3">protein</tspan><tspan x="915.3" dy="15.3">transport</tspan></text></g>
<g id="b-def"><circle class="t" cx="750.9" cy="1467.2" r="13.6"/><text x="748.9" y="1456.6"><tspan x="748.9">defense</tspan><tspan x="748.9" dy="15.3">response to</tspan><tspan x="748.9" dy="15.3">virus</tspan></text></g>
<g id="b-rm"><circle class="g" cx="558.7" cy="1443.8" r="10.7"/><text x="557.5" y="1436.9"><tspan x="557.5">DNA</tspan><tspan x="557.5" dy="15.3">restriction-modification</tspan><tspan x="557.5" dy="15.3">system</tspan></text></g>
<g id="b-cat"><circle class="g" cx="486.7" cy="1500.5" r="10.7"/><text x="486.7" y="1489.2"><tspan x="486.7">DNA</tspan><tspan x="486.7" dy="15.3">catabolic</tspan><tspan x="486.7" dy="15.3">process</tspan></text></g>
<g id="b-rep"><circle class="gt" cx="605.2" cy="1511.5" r="12.9"/><text x="603.8" y="1509.6"><tspan x="603.8">DNA</tspan><tspan x="603.8" dy="15.3">replication</tspan></text></g>
<g id="b-repair"><circle class="gt" cx="549" cy="1541.6" r="13.6"/><text x="548.1" y="1546.5">DNA repair</text></g>
<g id="b-nod"><circle class="gt" cx="311.3" cy="1347.8" r="12.9"/><text x="309.3" y="1347"><tspan x="309.3">nodule</tspan><tspan x="309.3" dy="15.3">morphogenesis</tspan></text></g>
<g id="b-rrna"><circle class="gt" cx="405.6" cy="1352.7" r="12.9"/><text x="404.1" y="1349.5"><tspan x="404.1">rRNA</tspan><tspan x="404.1" dy="15.3">processing</tspan></text></g>
<g id="b-reg"><circle class="g" cx="298.5" cy="1425.3" r="10.7"/><text x="297" y="1416.5"><tspan x="297">regulation</tspan><tspan x="297" dy="15.3">of catalytic</tspan><tspan x="297" dy="15.3">activity</tspan></text></g>
<g id="b-his"><circle class="y" cx="388.4" cy="1438.9" r="8.6"/><text x="386.1" y="1435"><tspan x="386.1">histone</tspan><tspan x="386.1" dy="15.3">modification</tspan></text></g>
<g id="b-tail"><circle class="t" cx="258.5" cy="1103.5" r="13.6"/><text x="257.9" y="1070.8"><tspan x="257.9">tail-anchored</tspan><tspan x="257.9" dy="15.3">membrane</tspan><tspan x="257.9" dy="15.3">protein</tspan><tspan x="257.9" dy="15.3">insertion</tspan><tspan x="257.9" dy="15.3">into ER</tspan><tspan x="257.9" dy="15.3">membrane</tspan></text></g>
<g id="b-imp"><circle class="t" cx="329.9" cy="1109.6" r="13.6"/><text x="327.9" y="1098.6"><tspan x="327.9">protein</tspan><tspan x="327.9" dy="15.3">import into</tspan><tspan x="327.9" dy="15.3">nucleus</tspan></text></g>
<g id="b-proc"><circle class="gt" cx="388.4" cy="1158.8" r="12.9"/><text x="386.1" y="1157.3"><tspan x="386.1">protein</tspan><tspan x="386.1" dy="15.3">processing</tspan></text></g>
<g id="b-pphos"><circle class="y" cx="194.2" cy="1167.4" r="8.6"/><text x="192.8" y="1164.7"><tspan x="192.8">protein</tspan><tspan x="192.8" dy="15.3">phosphorylation</tspan></text></g>
<g id="b-phos"><circle class="y" cx="207" cy="1208.6" r="7.1"/><text x="205" y="1214.8">phosphorylation</text></g>
<g id="b-ubq"><circle class="g" cx="379.8" cy="1204.9" r="10"/><text x="378.4" y="1202.9"><tspan x="378.4">protein</tspan><tspan x="378.4" dy="15.3">ubiquitination</tspan></text></g>
<g id="b-prot"><circle class="y" cx="227" cy="1244.3" r="8.6"/><text x="227" y="1249.7">proteolysis</text></g>
<g id="b-ubdep"><circle class="y" cx="311.3" cy="1257.9" r="8.6"/><text x="310.7" y="1239.4"><tspan x="310.7">ubiquitin-dependent</tspan><tspan x="310.7" dy="15.3">protein</tspan><tspan x="310.7" dy="15.3">catabolic</tspan><tspan x="310.7" dy="15.3">process</tspan></text></g>
<g id="b-G7"><circle class="y" cx="574.7" cy="1127.6" r="7.9"/><text x="574.7" y="1131.8">G7</text></g>
<g id="b-G1"><circle class="lg" cx="610.1" cy="1117.7" r="8.6"/><text x="610.1" y="1121.9">G1</text></g>
<g id="b-G23"><circle class="lg" cx="646.6" cy="1118.7" r="10"/><text x="646.6" y="1122.9">G23</text></g>
<g id="b-IRAK4"><circle class="g" cx="681.5" cy="1128.1" r="9.3"/><text x="681.5" y="1132.3">IRAK4</text></g>
<g id="b-G37"><circle class="y" cx="543.3" cy="1147.3" r="7.9"/><text x="543.3" y="1151.5">G37</text></g>
<g id="b-ICMEL1"><circle class="y" cx="712.9" cy="1147.3" r="7.9"/><text x="712.9" y="1151.5">ICMEL1</text></g>
<g id="b-PK"><circle class="y" cx="518.1" cy="1173.6" r="7.9"/><text x="518.1" y="1177.8">PK</text></g>
<g id="b-grxC"><circle class="g" cx="738.6" cy="1173.6" r="10"/><text x="738.6" y="1177.8">grxC</text></g>
<g id="b-PIN"><circle class="t" cx="630.9" cy="1181" r="13.6"/><text x="630.9" y="1185.2">PIN</text></g>
<g id="b-PRR7"><circle class="y" cx="501" cy="1206.1" r="7.1"/><text x="501" y="1210.3">PRR7</text></g>
<g id="b-G19"><circle class="t" cx="572.4" cy="1216" r="14.3"/><text x="572.4" y="1220.2">G19</text></g>
<g id="b-Cyt"><circle class="gt" cx="688.1" cy="1216" r="11.4"/><text x="688.1" y="1220.7">Cyt-p450</text></g>
<g id="b-FAH"><circle class="g" cx="754.6" cy="1206.1" r="10.7"/><text x="754.6" y="1210.3">FAH</text></g>
<g id="b-R1"><circle class="y" cx="493.8" cy="1241.8" r="7.9"/><text x="493.8" y="1246">R1</text></g>
<g id="b-DNAJB4"><circle class="g" cx="762.3" cy="1243.1" r="10"/><text x="762.3" y="1246.8">DNAJB4</text></g>
<g id="b-RAD"><circle class="y" cx="496.7" cy="1278.8" r="8.6"/><text x="494.7" y="1276.3"><tspan x="494.7">RADIALIS-like</tspan><tspan x="494.7" dy="14.8">4</tspan></text></g>
<g id="b-ndh1"><circle class="gt" cx="572.4" cy="1282.5" r="11.4"/><text x="572.4" y="1286.7">ndh1</text></g>
<g id="b-SLC"><circle class="t" cx="688.1" cy="1282.5" r="12.9"/><text x="689" y="1287.2">SLC15A3_4</text></g>
<g id="b-CML"><circle class="lg" cx="759.5" cy="1278.8" r="9.3"/><text x="759.5" y="1283">CML</text></g>
<g id="b-remorin"><circle class="y" cx="509" cy="1314.5" r="8.6"/><text x="509" y="1318.7">remorin 4.1</text></g>
<g id="b-PHO84"><circle class="t" cx="630.9" cy="1317" r="13.6"/><text x="630.9" y="1321.2">PHO84</text></g>
<g id="b-CLAVATA1"><circle class="lg" cx="748" cy="1313.3" r="10"/><text x="747.2" y="1318.2">CLAVATA1</text></g>
<g id="b-RNF"><circle class="lg" cx="529.5" cy="1342.8" r="9.3"/><text x="529" y="1347.8">RNF115-like</text></g>
<g id="b-AMY"><circle class="y" cx="726" cy="1342.8" r="7.9"/><text x="726" y="1347">AMY</text></g>
<g id="b-TCMATE"><circle class="g" cx="558.1" cy="1365.7" r="10.7"/><text x="558.1" y="1369.9">TC MATE</text></g>
<g id="b-AMPD"><circle class="lg" cx="698.1" cy="1365.7" r="8.6"/><text x="698.1" y="1369.9">AMPD</text></g>
<g id="b-trxA"><circle class="g" cx="591.8" cy="1380.5" r="10"/><text x="591.8" y="1384.7">trxA</text></g>
<g id="b-dash"><circle class="y" cx="629" cy="1385.4" r="7.9"/><text x="629" y="1389.6">--</text></g>
<g id="b-PLCD"><circle class="y" cx="663.8" cy="1378.5" r="8.6"/><text x="665.2" y="1384.7">PLCD</text></g>
</g>
</g>
</svg>
